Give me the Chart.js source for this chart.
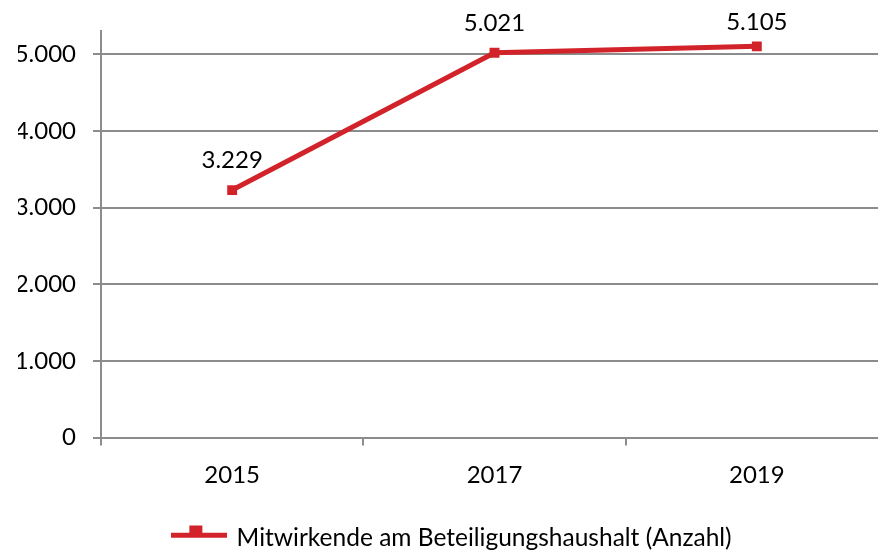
<!DOCTYPE html>
<html>
<head>
<meta charset="utf-8">
<script src="https://cdn.jsdelivr.net/npm/chart.js@4/dist/chart.umd.min.js"></script>
<style>
  html, body { margin: 0; padding: 0; background: #ffffff; overflow: hidden; }
  #wrap { width: 878px; height: 550px; overflow: hidden; position: relative; }
  #wrap canvas { position: absolute; left: 0; top: 0; }
</style>
</head>
<body>
<div id="wrap"><canvas id="chart" width="906" height="550" style="width:906px;height:550px"></canvas></div>
<script>
// Participants in the participatory budget, by survey year
const years = ['2015', '2017', '2019'];
const participants = [3229, 5021, 5105];
const yTickValues = [0, 1000, 2000, 3000, 4000, 5000];
const seriesLabel = 'Mitwirkende am Beteiligungshaushalt (Anzahl)';

const RED = '#d2232a';
const GRID = '#8c8c8c';
const FONT = 'Lato';

// German thousands separator: 5000 -> "5.000"
const fmt = v => String(v).replace(/\B(?=(\d{3})+(?!\d))/g, '.');

// Legend marker: a short line with a square sitting on it
function legendMarker() {
  const c = document.createElement('canvas');
  c.width = 56; c.height = 26;
  const g = c.getContext('2d');
  g.fillStyle = RED;
  g.fillRect(0, 8, 56, 5);
  g.fillRect(18, 0, 13, 13);
  return c;
}

// Value labels above each point, kept inside the canvas
const valueLabels = {
  id: 'valueLabels',
  afterDatasetsDraw(chart) {
    const ctx = chart.ctx;
    const meta = chart.getDatasetMeta(0);
    const data = chart.data.datasets[0].data;
    ctx.save();
    ctx.font = '24px ' + FONT;
    ctx.fillStyle = '#000';
    ctx.textAlign = 'center';
    ctx.textBaseline = 'middle';
    meta.data.forEach((pt, i) => {
      const y = Math.max(pt.y - 30, 22);
      ctx.fillText(fmt(data[i]), pt.x, y);
    });
    ctx.restore();
  }
};

new Chart(document.getElementById('chart'), {
  type: 'line',
  data: {
    labels: years,
    datasets: [{
      label: seriesLabel,
      data: participants,
      borderColor: RED,
      backgroundColor: RED,
      borderWidth: 5,
      tension: 0,
      pointStyle: 'rect',
      pointRadius: 7,
      pointHoverRadius: 7,
      pointBorderWidth: 0,
      fill: false
    }]
  },
  options: {
    responsive: false,
    animation: false,
    devicePixelRatio: 1,
    layout: { padding: { top: 29, left: 18, right: 18, bottom: -10 } },
    plugins: {
      tooltip: { enabled: false },
      legend: {
        position: 'bottom',
        labels: {
          font: { family: FONT, size: 24.5 },
          color: '#000',
          padding: 0,
          usePointStyle: true,
          pointStyleWidth: 50,
          generateLabels: chart => chart.data.datasets.map((ds, i) => ({
            text: ds.label,
            pointStyle: legendMarker(),
            fillStyle: RED,
            strokeStyle: RED,
            lineWidth: 0,
            datasetIndex: i,
            hidden: false
          }))
        }
      }
    },
    scales: {
      x: {
        type: 'category',
        offset: true,
        grid: {
          offset: true,
          drawOnChartArea: false,
          drawTicks: true,
          tickLength: 8,
          color: GRID,
          lineWidth: 2
        },
        border: { display: true, color: GRID, width: 2 },
        ticks: {
          font: { family: FONT, size: 24 },
          color: '#000',
          padding: 15,
          maxRotation: 0
        },
        afterFit: s => { s.height = 88; }
      },
      y: {
        min: 0,
        max: 5300,
        afterBuildTicks: s => { s.ticks = yTickValues.map(v => ({ value: v })); },
        grid: {
          color: GRID,
          lineWidth: 2,
          drawTicks: true,
          tickLength: 8
        },
        border: { display: true, color: GRID, width: 2 },
        ticks: {
          font: { family: FONT, size: 24 },
          color: '#000',
          padding: 17,
          callback: v => fmt(v)
        },
        afterFit: s => { s.width = 83; }
      }
    }
  },
  plugins: [valueLabels]
});
</script>
</body>
</html>
